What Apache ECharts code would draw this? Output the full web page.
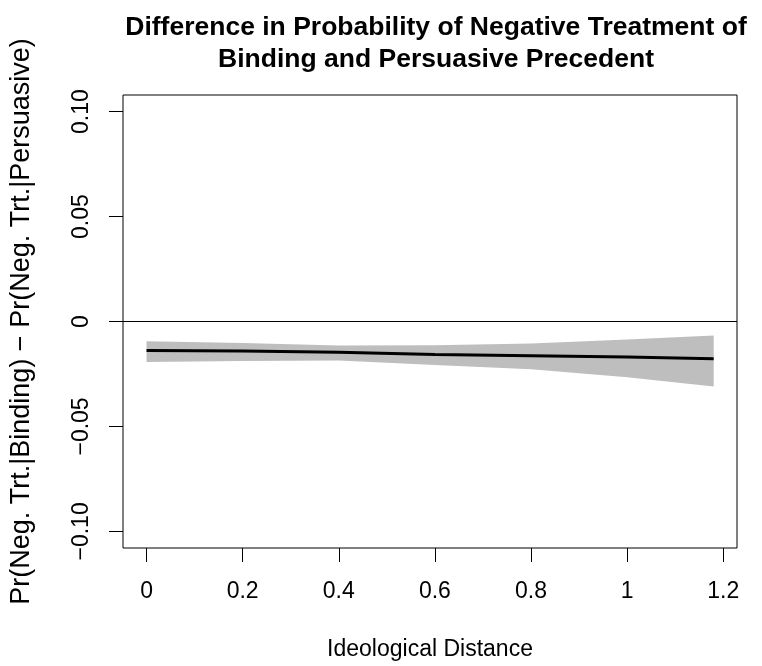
<!DOCTYPE html>
<html>
<head>
<meta charset="utf-8">
<script src="https://cdn.jsdelivr.net/npm/echarts@6/dist/echarts.min.js"></script>
<style>
    html, body { margin: 0; padding: 0; background: #fff; }
    #chart { width: 762px; height: 666px; }
</style>
</head>
<body>
<div id="chart"></div>
<script>
// ideological distance where the curve was read
var distance = [0, 0.2, 0.4, 0.6, 0.8, 1.0, 1.18];
// predicted difference and its interval
var fitValues = [-0.0138, -0.0141, -0.0146, -0.0157, -0.0163, -0.0169, -0.0177];
var upperValues = [-0.0094, -0.0103, -0.0114, -0.0113, -0.0105, -0.0086, -0.0067];
var lowerValues = [-0.0193, -0.0188, -0.0186, -0.0207, -0.0228, -0.0265, -0.0310];

var xTicks = [0, 0.2, 0.4, 0.6, 0.8, 1, 1.2];
var xTickLabels = ['0', '0.2', '0.4', '0.6', '0.8', '1', '1.2'];
var yTicks = [-0.1, -0.05, 0, 0.05, 0.1];
var yTickLabels = ['\u22120.10', '\u22120.05', '0', '0.05', '0.10'];

var font = 'Liberation Sans, Arial, Helvetica, sans-serif';

function pairs(xs, ys) {
    return xs.map(function (x, i) { return [x, ys[i]]; });
}

function labelFor(ticks, labels) {
    return function (v) {
        for (var i = 0; i < ticks.length; i++) {
            if (Math.abs(ticks[i] - v) < 1e-9) return labels[i];
        }
        return '';
    };
}

// grey confidence band, upper edge then lower edge back
function renderBand(params, api) {
    if (params.dataIndex !== 0) return;
    var pts = [];
    for (var i = 0; i < distance.length; i++) {
        pts.push(api.coord([distance[i], upperValues[i]]));
    }
    for (var j = distance.length - 1; j >= 0; j--) {
        pts.push(api.coord([distance[j], lowerValues[j]]));
    }
    return {
        type: 'polygon',
        shape: {points: pts},
        style: {fill: '#bebebe', stroke: null}
    };
}

var chart = echarts.init(document.getElementById('chart'));
chart.setOption({
    animation: false,
    backgroundColor: '#ffffff',
    textStyle: {fontFamily: font},
    title: {
        text: 'Difference in Probability of Negative Treatment of\nBinding and Persuasive Precedent',
        left: 431,
        textAlign: 'center',
        top: 7,
        textStyle: {fontFamily: font, fontSize: 26.5, fontWeight: 'bold', color: '#000', lineHeight: 32}
    },
    grid: {
        left: 122, right: 25, top: 95, bottom: 116,
        show: true, borderColor: '#000', borderWidth: 1, backgroundColor: 'transparent'
    },
    xAxis: {
        type: 'value',
        min: -0.049,
        max: 1.2285,
        name: 'Ideological Distance',
        nameLocation: 'middle',
        nameGap: 90,
        nameTextStyle: {fontFamily: font, fontSize: 23, color: '#000'},
        axisLine: {show: false, onZero: false},
        splitLine: {show: false},
        axisTick: {show: true, inside: false, length: 14, customValues: xTicks, lineStyle: {color: '#000', width: 1}},
        axisLabel: {
            customValues: xTicks, margin: 32, fontSize: 23, color: '#000', fontFamily: font,
            formatter: labelFor(xTicks, xTickLabels)
        }
    },
    yAxis: {
        type: 'value',
        min: -0.1079,
        max: 0.1079,
        name: 'Pr(Neg. Trt.|Binding) \u2212 Pr(Neg. Trt.|Persuasive)',
        nameLocation: 'middle',
        nameGap: 88,
        nameTextStyle: {fontFamily: font, fontSize: 27, color: '#000'},
        axisLine: {show: false, onZero: false},
        splitLine: {show: false},
        axisTick: {show: true, inside: false, length: 14, customValues: yTicks, lineStyle: {color: '#000', width: 1}},
        axisLabel: {
            customValues: yTicks, rotate: 90, margin: 30, fontSize: 23, color: '#000', fontFamily: font,
            formatter: labelFor(yTicks, yTickLabels)
        }
    },
    series: [
        {
            name: 'band',
            type: 'custom',
            renderItem: renderBand,
            data: pairs(distance, fitValues),
            encode: {x: 0, y: 1},
            silent: true,
            z: 1
        },
        {
            name: 'fit',
            type: 'line',
            data: pairs(distance, fitValues),
            symbol: 'none',
            lineStyle: {color: '#000', width: 3},
            silent: true,
            z: 3,
            markLine: {
                silent: true,
                symbol: 'none',
                label: {show: false},
                lineStyle: {color: '#000', width: 1, type: 'solid'},
                data: [{yAxis: 0}]
            }
        }
    ]
});
</script>
</body>
</html>
